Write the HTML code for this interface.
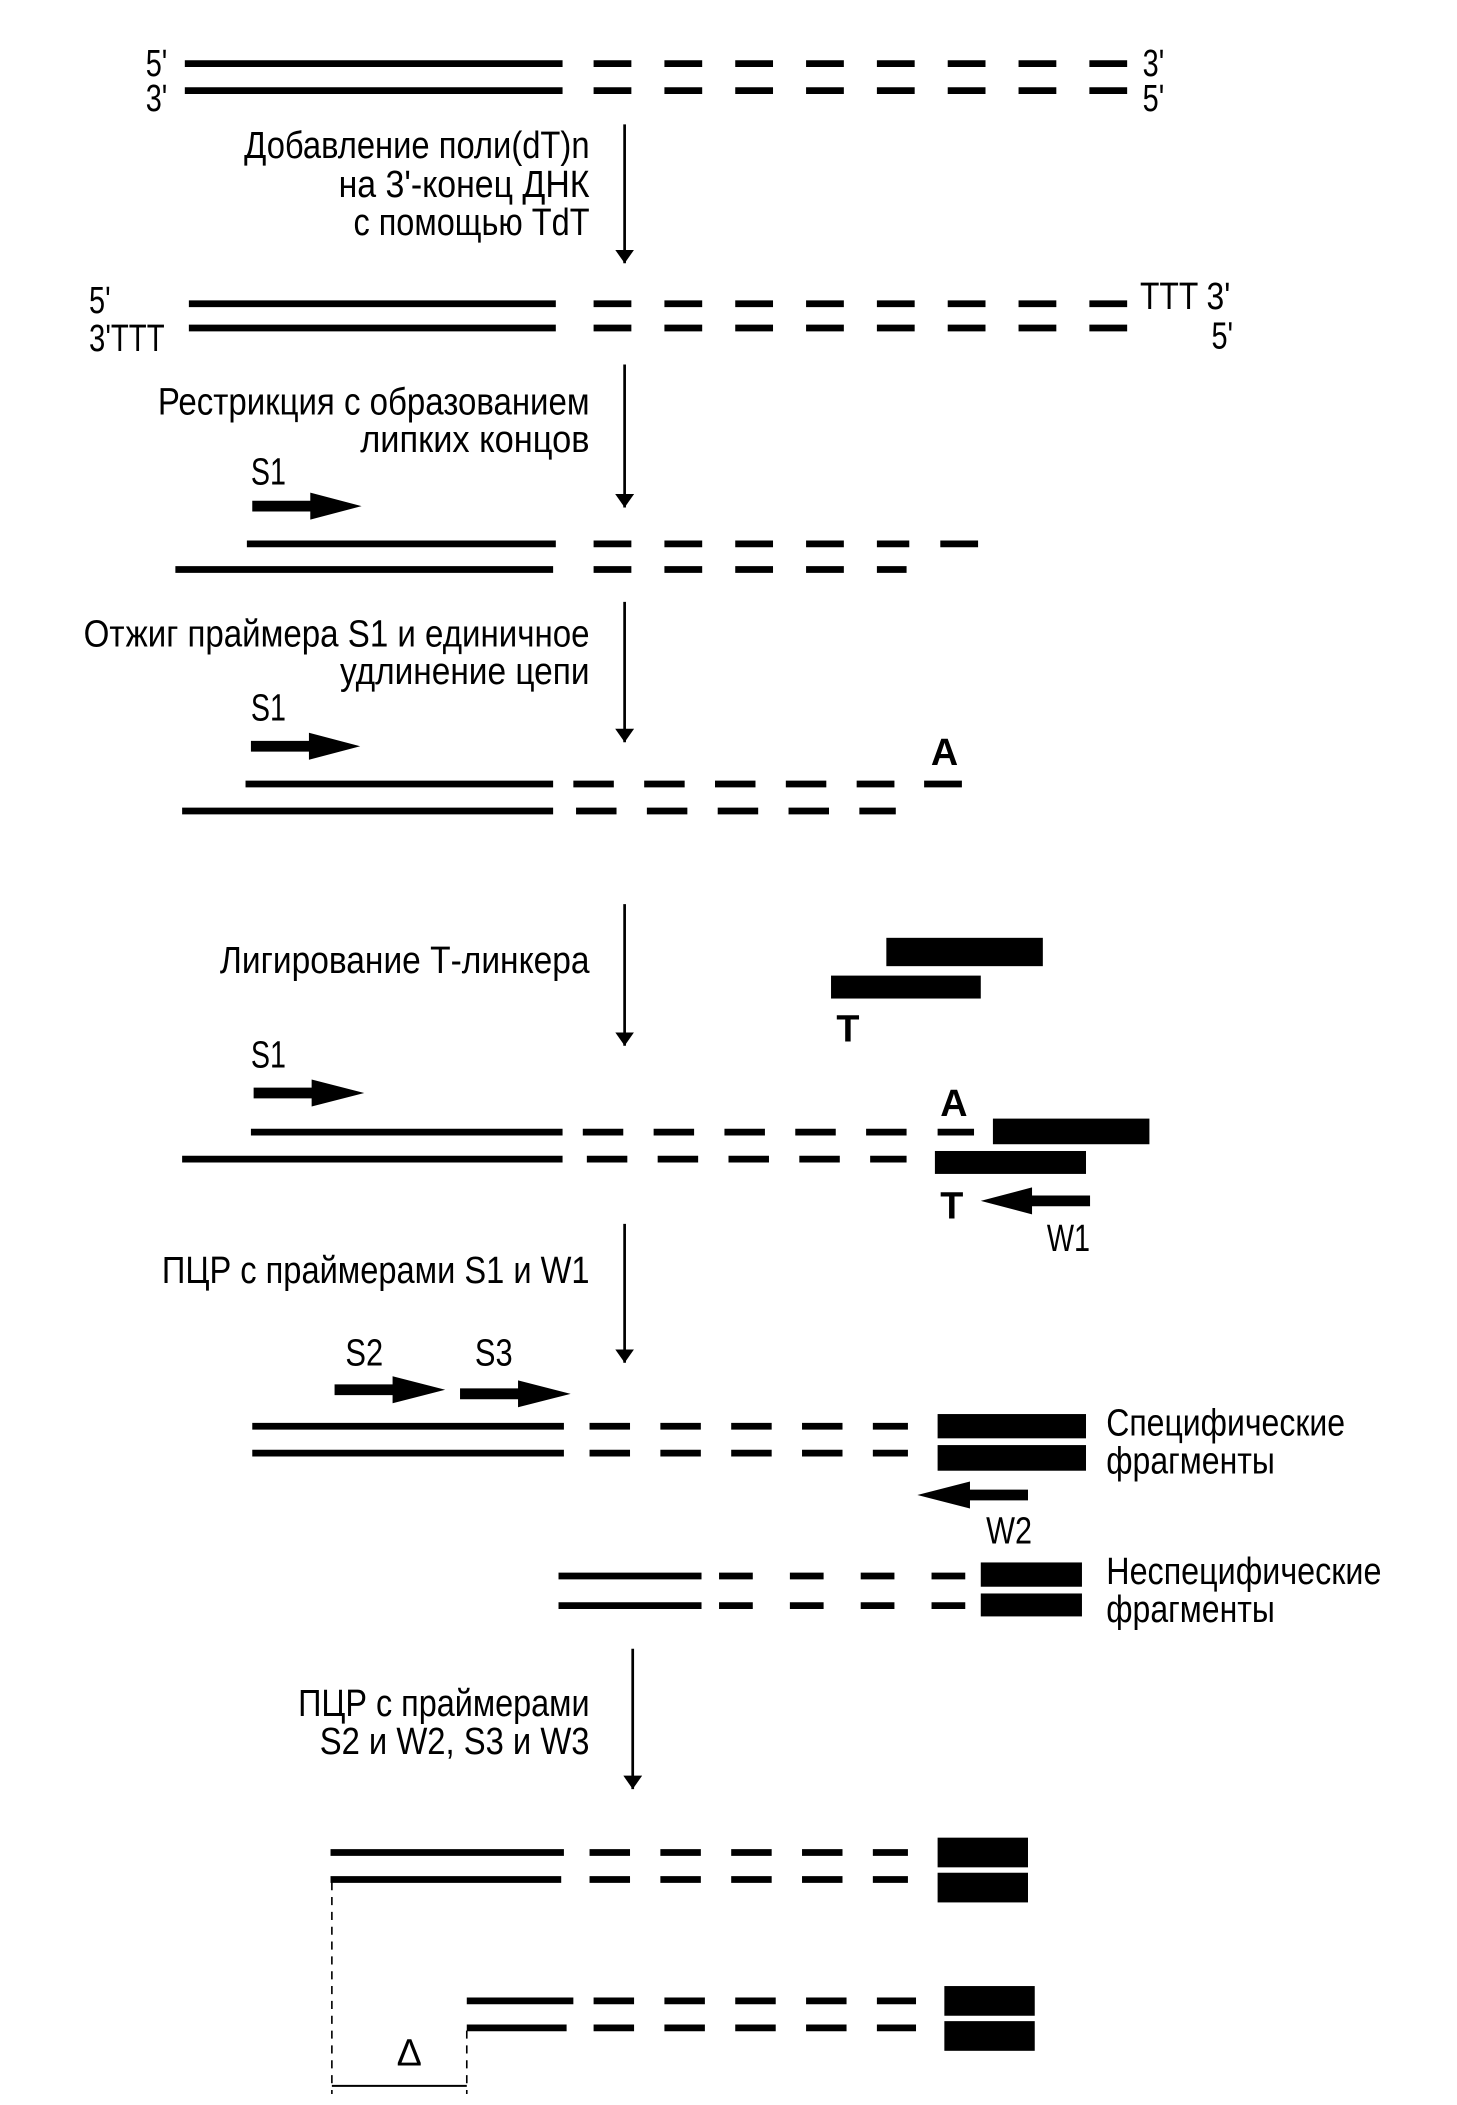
<!DOCTYPE html>
<html><head><meta charset="utf-8"><style>
html,body{margin:0;padding:0;background:#fff}
svg{display:block}
text{font-family:"Liberation Sans Narrow","Liberation Sans",sans-serif;font-size:28px;fill:#000}
.e{text-anchor:end}
.b{font-weight:bold}
</style></head><body>
<svg width="1457" height="2105" viewBox="0 0 1080 1560" xmlns="http://www.w3.org/2000/svg">
<defs>
<marker id="ah" markerWidth="10" markerHeight="14" refX="10" refY="7" orient="auto" markerUnits="userSpaceOnUse"><path d="M0,0 L10,7 L0,14 Z" fill="#000"/></marker>
</defs>
<g stroke="#000" stroke-width="5" fill="none">
<line x1="137" y1="47" x2="417" y2="47"/><line x1="137" y1="67" x2="417" y2="67"/>
<path stroke-dasharray="28 24.5" d="M440 47H836M440 67H836"/>
<line x1="140" y1="225" x2="412" y2="225"/><line x1="140" y1="243" x2="412" y2="243"/>
<path stroke-dasharray="28 24.5" d="M440 225H836M440 243H836"/>
<line x1="183" y1="403" x2="412" y2="403"/><line x1="130" y1="422" x2="410" y2="422"/>
<path stroke-dasharray="28 24.5" d="M440 403H674M440 422H672"/>
<line x1="697" y1="403" x2="725" y2="403"/>
<line x1="182" y1="581" x2="410" y2="581"/><line x1="135" y1="601" x2="410" y2="601"/>
<path stroke-dasharray="30 22.5" d="M425 581H663M427 601H664"/>
<line x1="685" y1="581" x2="713" y2="581"/>
<line x1="186" y1="839" x2="417" y2="839"/><line x1="135" y1="859" x2="417" y2="859"/>
<path stroke-dasharray="30 22.5" d="M432 839H672M435 859H672"/>
<line x1="695" y1="839" x2="722" y2="839"/>
<line x1="187" y1="1057" x2="418" y2="1057"/><line x1="187" y1="1077" x2="418" y2="1077"/>
<path stroke-dasharray="30 22.5" d="M437 1057H673M437 1077H673"/>
<line x1="414" y1="1168" x2="520" y2="1168"/><line x1="414" y1="1190" x2="520" y2="1190"/>
<path stroke-dasharray="25 27.5" d="M533 1168H718M533 1190H718"/>
<line x1="245" y1="1373" x2="418" y2="1373"/><line x1="245" y1="1393" x2="416" y2="1393"/>
<path stroke-dasharray="30 22.5" d="M437 1373H673M437 1393H673"/>
<line x1="346" y1="1483" x2="425" y2="1483"/><line x1="346" y1="1503" x2="420" y2="1503"/>
<path stroke-dasharray="30 22.5" d="M440 1483H679M440 1503H679"/>
</g>
<g stroke="#000" stroke-width="2">
<line x1="463" y1="92" x2="463" y2="195" marker-end="url(#ah)"/>
<line x1="463" y1="270" x2="463" y2="376" marker-end="url(#ah)"/>
<line x1="463" y1="446" x2="463" y2="550" marker-end="url(#ah)"/>
<line x1="463" y1="670" x2="463" y2="775" marker-end="url(#ah)"/>
<line x1="463" y1="907" x2="463" y2="1010" marker-end="url(#ah)"/>
<line x1="469" y1="1222" x2="469" y2="1326" marker-end="url(#ah)"/>
</g>
<g fill="#000">
<path d="M187 371H230V365L268 375L230 385V379H187Z"/>
<path d="M186 549H229V543L267 553L229 563V557H186Z"/>
<path d="M188 806H231V800L270 810L231 820V814H188Z"/>
<path d="M248 1026H291V1020L330 1030L291 1040V1034H248Z"/>
<path d="M341 1029H384V1023L423 1033L384 1043V1037H341Z"/>
<path d="M808 886H765V880L727 890L765 900V894H808Z"/>
<path d="M762 1104H719V1098L680 1108L719 1118V1112H762Z"/>
<rect x="657" y="695" width="116" height="21"/>
<rect x="616" y="723" width="111" height="17"/>
<rect x="736" y="829" width="116" height="19"/>
<rect x="693" y="853" width="112" height="17"/>
<rect x="695" y="1048" width="110" height="18"/>
<rect x="695" y="1071" width="110" height="19"/>
<rect x="727" y="1158" width="75" height="18"/>
<rect x="727" y="1181" width="75" height="17"/>
<rect x="695" y="1362" width="67" height="22"/>
<rect x="695" y="1388" width="67" height="22"/>
<rect x="700" y="1472" width="67" height="22"/>
<rect x="700" y="1498" width="67" height="22"/>
</g>
<g stroke="#000" stroke-width="1.2" fill="none">
<line x1="246" y1="1395" x2="246" y2="1552" stroke-dasharray="6 5"/>
<line x1="346" y1="1505" x2="346" y2="1552" stroke-dasharray="6 5"/>
<line x1="246" y1="1546" x2="346" y2="1546" stroke-width="1.5"/>
</g>
<text x="108" y="56" textLength="16" lengthAdjust="spacingAndGlyphs">5'</text><text x="108" y="82" textLength="16" lengthAdjust="spacingAndGlyphs">3'</text>
<text x="847" y="56" textLength="16" lengthAdjust="spacingAndGlyphs">3'</text><text x="847" y="82" textLength="16" lengthAdjust="spacingAndGlyphs">5'</text>
<text class="e" x="437" y="117" textLength="256" lengthAdjust="spacingAndGlyphs">Добавление поли(dT)n</text>
<text class="e" x="437" y="146" textLength="186" lengthAdjust="spacingAndGlyphs">на 3'-конец ДНК</text>
<text class="e" x="437" y="174" textLength="175" lengthAdjust="spacingAndGlyphs">с помощью TdT</text>
<text x="66" y="232" textLength="16" lengthAdjust="spacingAndGlyphs">5'</text><text x="66" y="260" textLength="56" lengthAdjust="spacingAndGlyphs">3'TTT</text>
<text x="845" y="229" textLength="67" lengthAdjust="spacingAndGlyphs">TTT 3'</text><text x="898" y="258" textLength="16" lengthAdjust="spacingAndGlyphs">5'</text>
<text class="e" x="437" y="307" textLength="320" lengthAdjust="spacingAndGlyphs">Рестрикция с образованием</text>
<text class="e" x="437" y="335" textLength="170" lengthAdjust="spacingAndGlyphs">липких концов</text>
<text x="186" y="359" textLength="26" lengthAdjust="spacingAndGlyphs">S1</text>
<text class="e" x="437" y="479" textLength="375" lengthAdjust="spacingAndGlyphs">Отжиг праймера S1 и единичное</text>
<text class="e" x="437" y="507" textLength="185" lengthAdjust="spacingAndGlyphs">удлинение цепи</text>
<text x="186" y="534" textLength="26" lengthAdjust="spacingAndGlyphs">S1</text>
<text class="b" x="690" y="567">A</text>
<text class="e" x="437" y="721" textLength="274" lengthAdjust="spacingAndGlyphs">Лигирование Т-линкера</text>
<text class="b" x="620" y="772">T</text>
<text x="186" y="791" textLength="26" lengthAdjust="spacingAndGlyphs">S1</text>
<text class="b" x="697" y="827">A</text>
<text class="b" x="697" y="903">T</text>
<text x="776" y="927" textLength="32" lengthAdjust="spacingAndGlyphs">W1</text>
<text class="e" x="437" y="951" textLength="317" lengthAdjust="spacingAndGlyphs">ПЦР с праймерами S1 и W1</text>
<text x="256" y="1012" textLength="28" lengthAdjust="spacingAndGlyphs">S2</text><text x="352" y="1012" textLength="28" lengthAdjust="spacingAndGlyphs">S3</text>
<text x="820" y="1064" textLength="177" lengthAdjust="spacingAndGlyphs">Специфические</text>
<text x="820" y="1092" textLength="125" lengthAdjust="spacingAndGlyphs">фрагменты</text>
<text x="731" y="1144" textLength="34" lengthAdjust="spacingAndGlyphs">W2</text>
<text x="820" y="1174" textLength="204" lengthAdjust="spacingAndGlyphs">Неспецифические</text>
<text x="820" y="1202" textLength="125" lengthAdjust="spacingAndGlyphs">фрагменты</text>
<text class="e" x="437" y="1272" textLength="216" lengthAdjust="spacingAndGlyphs">ПЦР с праймерами</text>
<text class="e" x="437" y="1300" textLength="200" lengthAdjust="spacingAndGlyphs">S2 и W2, S3 и W3</text>
<text x="294" y="1531">Δ</text>
</svg>
</body></html>
